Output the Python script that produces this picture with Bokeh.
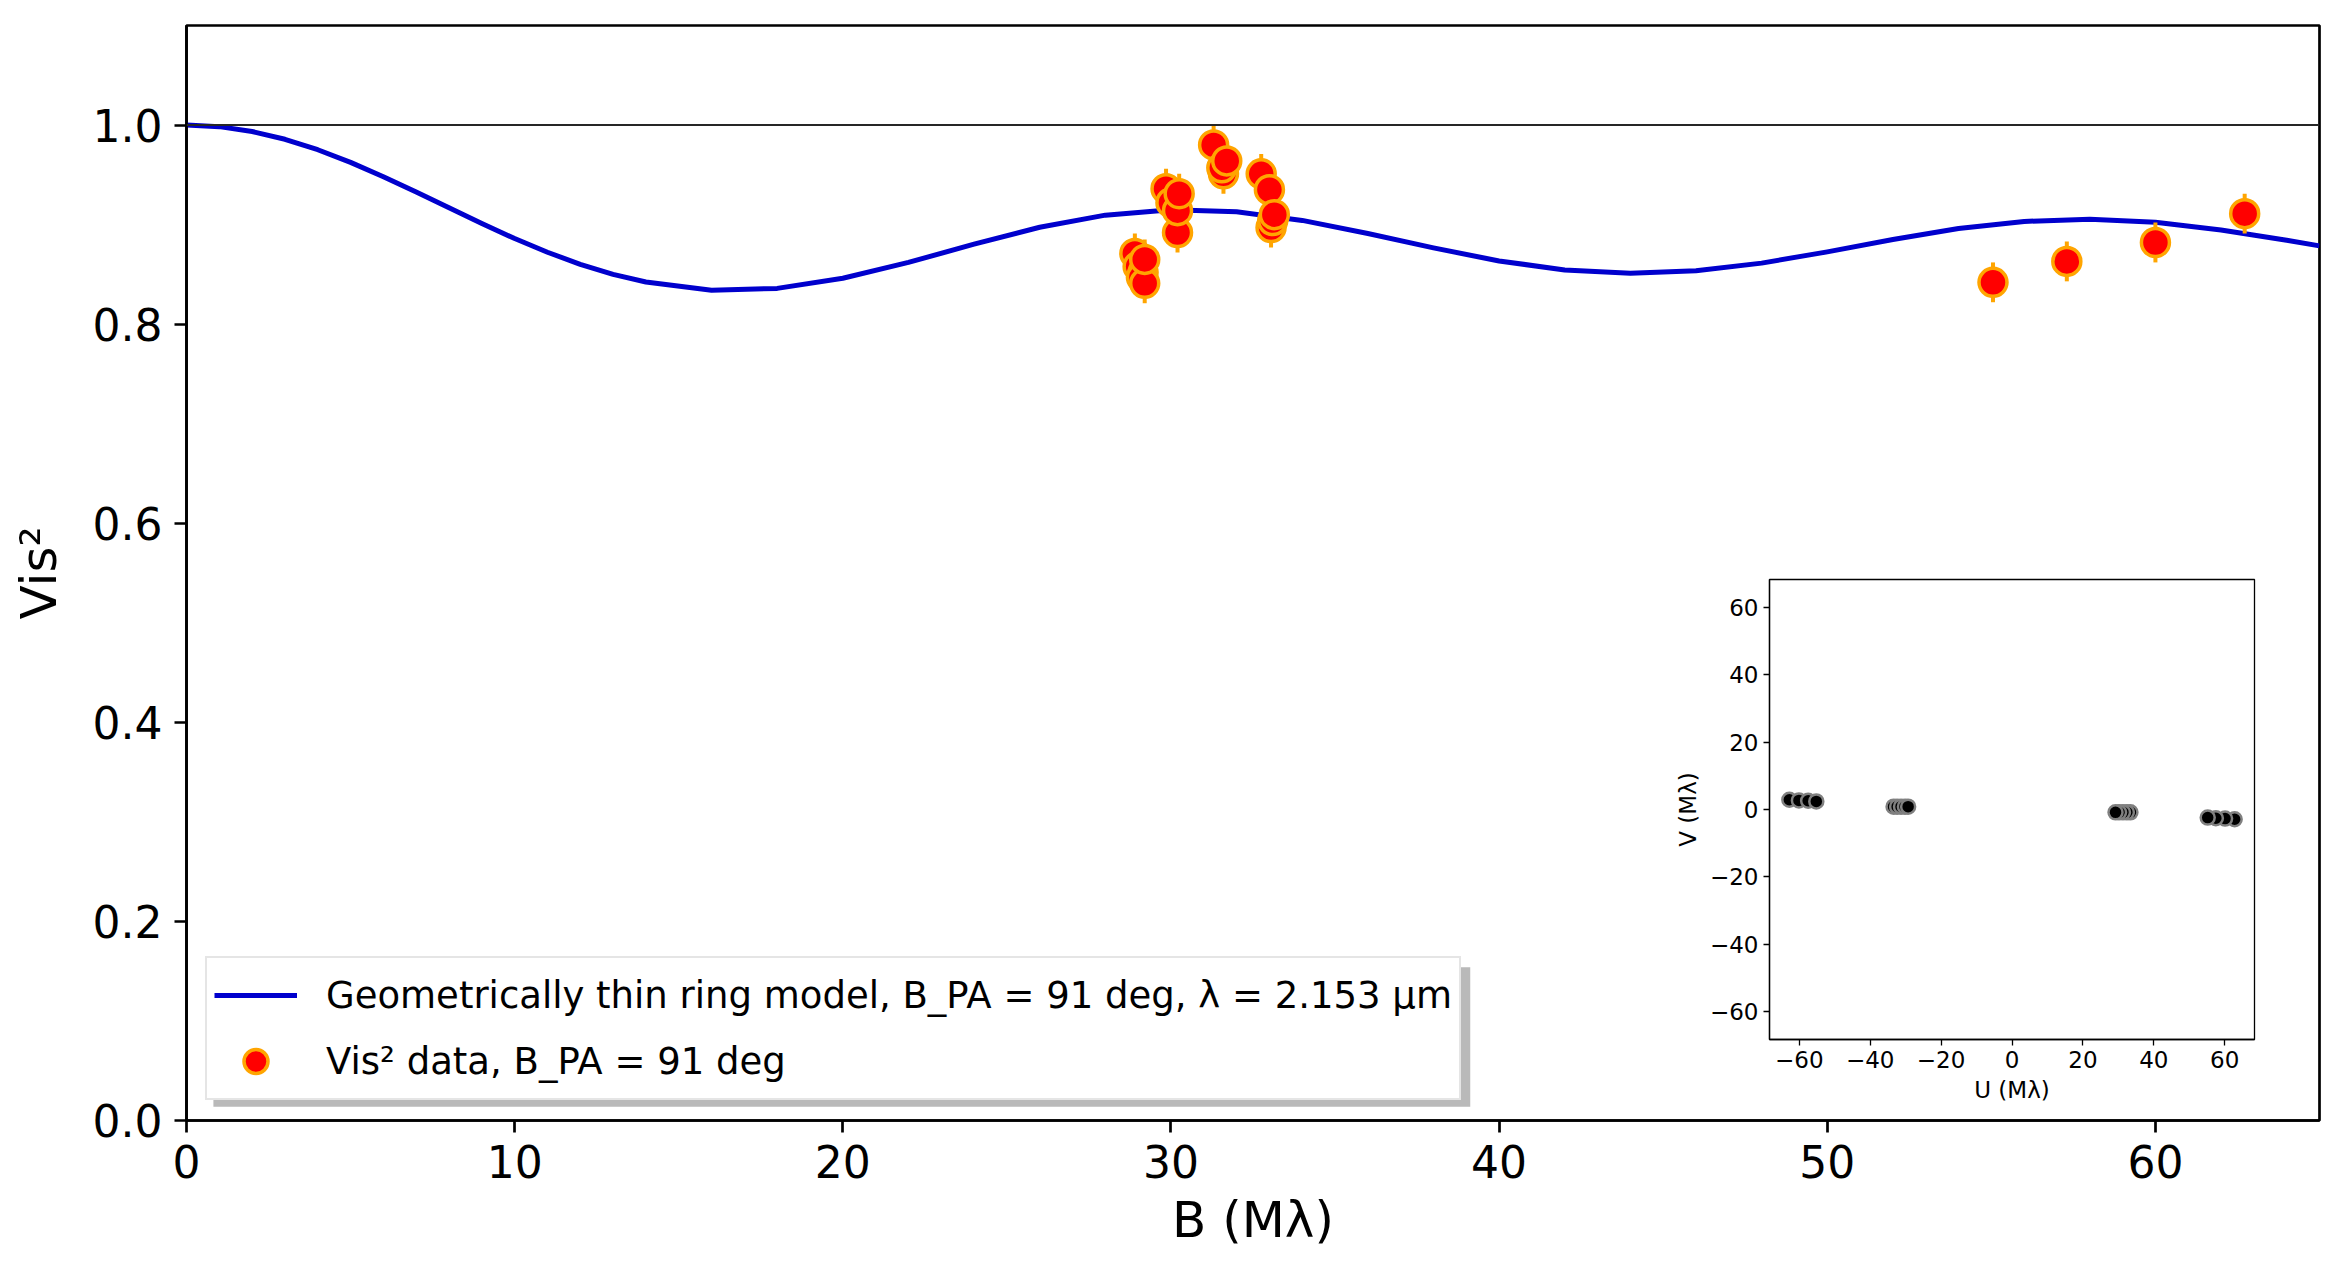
import numpy as np
from bokeh.plotting import figure
from bokeh.models import Span, Legend, LegendItem, FixedTicker, PrintfTickFormatter, BoxAnnotation
from bokeh.layouts import column
from bokeh.embed import file_html
from bokeh.resources import INLINE

# ---- model curve (geometrically thin ring) ----
model_b = [0, 1, 2, 3, 4, 5, 6, 7, 8, 9, 10, 11, 12, 13, 14, 16, 18, 20, 22,
           24, 26, 28, 30, 32, 34, 36, 38, 40, 42, 44, 46, 48, 50, 52, 54,
           56, 58, 60, 62, 64, 65]
model_v2 = [1.0000, 0.9984, 0.9935, 0.9857, 0.9752, 0.9625, 0.9481, 0.9327,
            0.9168, 0.9010, 0.8860, 0.8722, 0.8601, 0.8500, 0.8423, 0.8341,
            0.8359, 0.8461, 0.8620, 0.8803, 0.8973, 0.9095, 0.9149, 0.9129,
            0.9042, 0.8911, 0.8766, 0.8635, 0.8544, 0.8510, 0.8536, 0.8613,
            0.8726, 0.8850, 0.8960, 0.9032, 0.9054, 0.9023, 0.8946, 0.8842,
            0.8786]

# ---- Vis2 data ----
data_b = [28.9, 29.0, 29.15, 29.1, 29.2, 29.2,
          29.85, 30.0, 30.2, 30.2, 30.25,
          31.3, 31.6, 31.55, 31.7,
          32.75, 33.0, 33.05, 33.1, 33.15,
          55.05, 57.3, 60.0, 62.72]
data_v2 = [0.871, 0.858, 0.852, 0.847, 0.841, 0.865,
           0.936, 0.922, 0.892, 0.914, 0.931,
           0.980, 0.951, 0.957, 0.964,
           0.951, 0.935, 0.897, 0.904, 0.910,
           0.842, 0.863, 0.882, 0.911]
data_err = [0.02, 0.02, 0.02, 0.02, 0.02, 0.02,
            0.02, 0.02, 0.02, 0.02, 0.02,
            0.02, 0.02, 0.02, 0.02,
            0.02, 0.02, 0.02, 0.02, 0.02,
            0.02, 0.02, 0.02, 0.02]

# ---- uv coverage (inset) ----
uv_u = [-62.8, -60.1, -57.5, -55.2, -33.4, -32.4, -31.3, -30.2, -29.3,
        62.8, 60.1, 57.5, 55.2, 33.4, 32.4, 31.3, 30.2, 29.2]
uv_v = [2.9, 2.7, 2.6, 2.4, 0.85, 0.85, 0.85, 0.85, 0.85,
        -2.9, -2.7, -2.6, -2.4, -0.85, -0.85, -0.85, -0.85, -0.85]

x_ticks = [0, 10, 20, 30, 40, 50, 60]
y_ticks = [0.0, 0.2, 0.4, 0.6, 0.8, 1.0]
uv_ticks = [-60, -40, -20, 0, 20, 40, 60]

FONT = "DejaVu Sans"

BL, BR, BT, BB = 186, 15, 25, 148
W, H = 2334, 1268

p = figure(width=W, height=H, x_range=(0, 65), y_range=(0, 1.1),
           output_backend="svg", toolbar_location=None,
           min_border_left=BL, min_border_right=BR,
           min_border_top=BT, min_border_bottom=BB)
p.grid.visible = False
p.background_fill_color = "white"
p.border_fill_color = "white"
p.outline_line_color = "black"
p.outline_line_width = 2.7
p.outline_line_alpha = 1.0

for ax in (p.xaxis[0], p.yaxis[0]):
    ax.axis_line_width = 2.7
    ax.major_tick_line_width = 2.7
    ax.major_tick_out = 12
    ax.major_tick_in = 0
    ax.minor_tick_line_color = None
    ax.major_label_text_font = FONT
    ax.major_label_text_font_size = "44px"
    ax.major_label_text_color = "black"
    ax.axis_label_text_font = FONT
    ax.axis_label_text_font_size = "50px"
    ax.axis_label_text_font_style = "normal"
    ax.axis_label_text_color = "black"
    ax.major_label_standoff = 12

p.xaxis.ticker = FixedTicker(ticks=x_ticks)
p.yaxis.ticker = FixedTicker(ticks=y_ticks)
p.yaxis.formatter = PrintfTickFormatter(format="%.1f")
p.xaxis.axis_label = "B (Mλ)"
p.yaxis.axis_label = "Vis²"
p.xaxis.axis_label_standoff = 10
p.yaxis.axis_label_standoff = 22

p.add_layout(Span(location=1.0, dimension="width", line_color="#262626", line_width=2))

r_line = p.line(model_b, model_v2, line_color="mediumblue", line_width=5,
                line_join="round")

lo = np.array(data_v2) - np.array(data_err)
hi = np.array(data_v2) + np.array(data_err)
p.segment(x0=data_b, y0=lo, x1=data_b, y1=hi, line_color="orange", line_width=4)
r_pts = p.scatter(data_b, data_v2, size=28, marker="circle", fill_color="red",
                  line_color="orange", line_width=3.5)

# legend drop shadow (decoration)
shadow = BoxAnnotation(left=0.82, right=39.12, bottom=0.0137, top=0.154,
                       fill_color="#808080", fill_alpha=0.55, line_color=None,
                       level="underlay")
p.add_layout(shadow)

legend = Legend(items=[
    LegendItem(label="Geometrically thin ring model, B_PA = 91 deg, λ = 2.153 μm", renderers=[r_line]),
    LegendItem(label="Vis² data, B_PA = 91 deg", renderers=[r_pts]),
], location=(19, 20), margin=0, padding=7, spacing=6,
    glyph_width=83, glyph_height=60, label_height=60, label_width=1000,
    label_standoff=29,
    label_text_font=FONT, label_text_font_size="37px", label_text_color="black",
    border_line_color="#cccccc", border_line_width=2.5,
    background_fill_color="white", background_fill_alpha=1.0)
p.add_layout(legend)

# ---- inset (uv plane) ----
IFL, IFT = 1769, 579      # inset frame left / top on the page
IFW, IFH = 485, 460       # inset frame size
IBT, IBB = 10, 75
ins = figure(width=BL + IFW + BR, height=IBT + IFH + IBB,
             x_range=(-68.4, 68.4), y_range=(-68.4, 68.4),
             output_backend="svg", toolbar_location=None,
             min_border_left=BL, min_border_right=BR,
             min_border_top=IBT, min_border_bottom=IBB,
             margin=(IFT - IBT - H, 0, 0, IFL - BL))
ins.grid.visible = False
ins.background_fill_color = "white"
ins.border_fill_color = None
ins.outline_line_color = "black"
ins.outline_line_width = 1.3
ins.outline_line_alpha = 1.0
overrides = {t: (str(t).replace("-", "\u2212")) for t in uv_ticks}
for ax in (ins.xaxis[0], ins.yaxis[0]):
    ax.ticker = FixedTicker(ticks=uv_ticks)
    ax.major_label_overrides = overrides
    ax.axis_line_width = 1.3
    ax.major_tick_line_width = 1.3
    ax.major_tick_out = 6
    ax.major_tick_in = 0
    ax.minor_tick_line_color = None
    ax.major_label_text_font = FONT
    ax.major_label_text_font_size = "23px"
    ax.major_label_text_color = "black"
    ax.major_label_standoff = 5
    ax.axis_label_text_font = FONT
    ax.axis_label_text_font_size = "23px"
    ax.axis_label_text_font_style = "normal"
    ax.axis_label_text_color = "black"
    ax.axis_label_standoff = 6
ins.xaxis.axis_label = "U (Mλ)"
ins.yaxis.axis_label = "V (Mλ)"
ins.scatter(uv_u, uv_v, size=14, marker="circle", fill_color="black",
            line_color="gray", line_width=2.5)

layout = column(p, ins, spacing=0)
open("out.html", "w").write(file_html(layout, INLINE))
